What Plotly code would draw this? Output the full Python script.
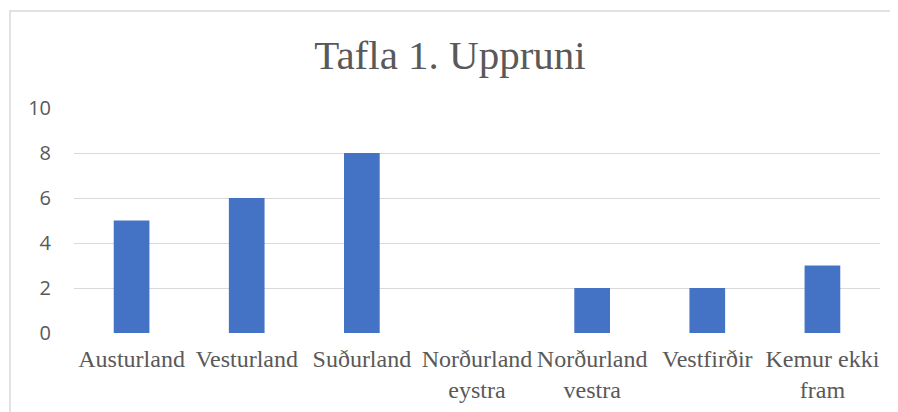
import plotly.graph_objects as go

categories = ["Austurland", "Vesturland", "Suðurland", "Norðurland<br>eystra",
              "Norðurland<br>vestra", "Vestfirðir", "Kemur ekki<br>fram"]
values = [5, 6, 8, 0, 2, 2, 3]
y_ticks = [0, 2, 4, 6, 8, 10]

# page has 8px body margin; figure occupies x 8..898, y 8..412
OFF = 8
W, H = 898 - OFF, 412 - OFF
L, R, T, B = 74 - OFF, 18, 108 - OFF, 79
pw, ph = W - L - R, H - T - B

fig = go.Figure(go.Bar(x=categories, y=values, marker_color="#4472C4",
                       marker_line_width=0, width=0.31))

fig.update_layout(
    width=W, height=H,
    margin=dict(l=L, r=R, t=T, b=B, pad=0, autoexpand=False),
    paper_bgcolor="white", plot_bgcolor="white",
    showlegend=False,
    title=dict(text="Tafla 1. Uppruni", x=(450 - OFF) / W, xanchor="center",
               y=1 - (55 - OFF) / H, yanchor="middle",
               font=dict(family="Liberation Serif", size=41, color="#595959")),
    xaxis=dict(tickfont=dict(family="Liberation Serif", size=24, color="#595959"),
               showgrid=False, zeroline=False, showline=False, automargin=False,
               ticks="outside", ticklen=4, tickcolor="rgba(0,0,0,0)"),
    yaxis=dict(range=[0, 10], tickvals=y_ticks, showgrid=True, gridcolor="#D9D9D9", gridwidth=1.3,
               zeroline=False, showline=False, ticks="outside", ticklen=18, automargin=False,
               tickcolor="rgba(0,0,0,0)",
               tickfont=dict(family="Open Sans", size=20, color="#595959")),
    shapes=[dict(type="rect", xref="paper", yref="paper",
                 x0=(10 - 74) / pw, x1=1.2, y0=-1, y1=(333 - 11) / ph,
                 line=dict(color="#D9D9D9", width=1.5), fillcolor="rgba(0,0,0,0)", layer="below")],
)
fig.write_html("out.html")
